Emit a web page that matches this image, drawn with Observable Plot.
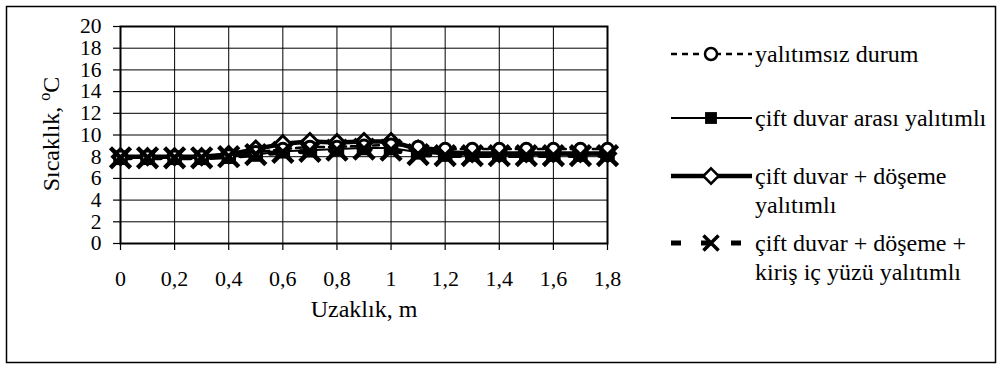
<!DOCTYPE html>
<html>
<head>
<meta charset="utf-8">
<script src="https://cdn.jsdelivr.net/npm/d3@7"></script>
<script src="https://cdn.jsdelivr.net/npm/@observablehq/plot@0.6"></script>
<style>
  html, body { margin: 0; padding: 0; background: white; }
  svg, svg text, svg tspan { font-family: 'Liberation Serif', 'Times New Roman', serif !important; }
</style>
</head>
<body>
<div id="chart"></div>
<script>
// ---- data ----
const distance = [0, 0.1, 0.2, 0.3, 0.4, 0.5, 0.6, 0.7, 0.8, 0.9, 1.0, 1.1, 1.2, 1.3, 1.4, 1.5, 1.6, 1.7, 1.8];
const yalitimsiz = [8.0, 8.0, 8.0, 8.0, 8.1, 8.4, 8.7, 8.9, 8.9, 9.0, 9.1, 8.9, 8.7, 8.7, 8.7, 8.7, 8.7, 8.7, 8.7];
const ciftDuvarArasi = [7.9, 7.9, 7.9, 7.9, 8.0, 8.2, 8.5, 8.6, 8.7, 8.8, 8.8, 8.4, 8.2, 8.2, 8.2, 8.2, 8.2, 8.2, 8.2];
const ciftDuvarDoseme = [8.0, 8.0, 8.0, 8.0, 8.2, 8.7, 9.2, 9.4, 9.3, 9.4, 9.4, 8.7, 8.4, 8.3, 8.3, 8.3, 8.3, 8.3, 8.3];
const ciftDuvarDosemeKiris = [7.9, 7.9, 7.9, 7.9, 8.0, 8.2, 8.4, 8.5, 8.6, 8.7, 8.6, 8.2, 8.1, 8.1, 8.1, 8.1, 8.1, 8.1, 8.1];

const xTicks = [0, 0.2, 0.4, 0.6, 0.8, 1, 1.2, 1.4, 1.6, 1.8];
const xTickLabels = ["0", "0,2", "0,4", "0,6", "0,8", "1", "1,2", "1,4", "1,6", "1,8"];
const yTicks = [0, 2, 4, 6, 8, 10, 12, 14, 16, 18, 20];
const yTickLabels = ["0", "2", "4", "6", "8", "10", "12", "14", "16", "18", "20"];

const xTitle = "Uzaklık, m";
const yTitleParts = ["Sıcaklık, ", "o", "C"];

const legendLabels = [
  ["yalıtımsız durum"],
  ["çift duvar arası yalıtımlı"],
  ["çift duvar + döşeme", "yalıtımlı"],
  ["çift duvar + döşeme +", "kiriş iç yüzü yalıtımlı"]
];

// ---- styles ----
const styles = [
  {symbol: "circle",   r: 5.8, fill: "white", stroke: "black", sw: 3,   line: 2.5, dash: "6,5"},
  {symbol: "square",   r: 8.2, fill: "black", stroke: "none",  sw: 0,   line: 2,   dash: null},
  {symbol: "diamond2", r: 7.2, fill: "white", stroke: "black", sw: 3,   line: 4.5, dash: null},
  {symbol: "times",    r: 9.2, fill: "none",  stroke: "black", sw: 4.5, line: 5,   dash: "10,20"}
];
const seriesValues = [yalitimsiz, ciftDuvarArasi, ciftDuvarDoseme, ciftDuvarDosemeKiris];
const drawOrder = [2, 1, 0, 3];

const xFmt = new Map(xTicks.map((t, i) => [t, xTickLabels[i]]));
const yFmt = new Map(yTicks.map((t, i) => [t, yTickLabels[i]]));

const lineMarks = seriesValues.map((vals, k) => Plot.line(vals, {
  x: (d, i) => distance[i], y: d => d,
  stroke: "black", strokeWidth: styles[k].line,
  strokeDasharray: styles[k].dash || undefined
}));
const dotMarks = drawOrder.map(k => Plot.dot(seriesValues[k], {
  x: (d, i) => distance[i], y: d => d,
  symbol: styles[k].symbol, r: styles[k].r,
  fill: styles[k].fill, stroke: styles[k].stroke, strokeWidth: styles[k].sw
}));

const svg = Plot.plot({
  width: 1002, height: 370,
  marginLeft: 120, marginRight: 395, marginTop: 26, marginBottom: 127,
  style: {fontSize: "22px", background: "white", color: "black"},
  x: {domain: [0, 1.8]},
  y: {domain: [0, 20]},
  marks: [
    Plot.gridX(xTicks.slice(1, -1), {stroke: "black", strokeOpacity: 1, strokeWidth: 1}),
    Plot.gridY(yTicks.slice(1), {stroke: "black", strokeOpacity: 1, strokeWidth: 1}),
    Plot.frame({stroke: "black", strokeWidth: 2}),
    Plot.axisX(xTicks, {tickSize: 7, tickPadding: 20, tickFormat: d => xFmt.get(d), label: null, fontSize: 22, strokeWidth: 1.2}),
    Plot.axisY(yTicks, {tickSize: 7, tickPadding: 12, tickFormat: d => yFmt.get(d), label: null, fontSize: 21.5, strokeWidth: 1.2}),
    ...lineMarks,
    ...dotMarks
  ]
});

document.getElementById("chart").appendChild(svg);

// ---- decorations: outer frame, axis titles, legend ----
const s = d3.select(svg);
s.insert("rect", ":first-child")
  .attr("x", 6.5).attr("y", 6.5).attr("width", 989).attr("height", 356)
  .attr("fill", "white").attr("stroke", "black").attr("stroke-width", 1.5);

s.append("text")
  .attr("x", 364).attr("y", 309).attr("dy", "0.35em")
  .attr("text-anchor", "middle").attr("font-size", 24)
  .text(xTitle);

const yt = s.append("text")
  .attr("transform", "translate(51,134) rotate(-90)")
  .attr("dy", "0.35em")
  .attr("text-anchor", "middle").attr("font-size", 24);
yt.append("tspan").text(yTitleParts[0]);
yt.append("tspan").attr("font-size", 16).attr("dy", -9).text(yTitleParts[1]);
yt.append("tspan").attr("font-size", 24).attr("dy", 9).text(yTitleParts[2]);

const LEG = {x0: 671, x1: 752, xm: 711, xt: 755, rows: [54, 118, 176, 243], lh: 29};
const legendSymbolSize = [113, 140, 150, 150];
const legendSymbolStroke = [2.5, 0, 2.5, 3.5];
const symMap = {circle: d3.symbolCircle, square: d3.symbolSquare, diamond2: d3.symbolDiamond2, times: d3.symbolTimes};
const lg = s.append("g").attr("text-anchor", "start");
legendLabels.forEach((lines, k) => {
  const st = styles[k];
  const y = LEG.rows[k];
  lg.append("line")
    .attr("x1", LEG.x0).attr("x2", LEG.x1).attr("y1", y).attr("y2", y)
    .attr("stroke", "black").attr("stroke-width", st.line)
    .attr("stroke-dasharray", st.dash);
  lg.append("path")
    .attr("transform", `translate(${LEG.xm},${y})`)
    .attr("d", d3.symbol(symMap[st.symbol], legendSymbolSize[k])())
    .attr("fill", st.fill).attr("stroke", st.stroke).attr("stroke-width", legendSymbolStroke[k]);
  lines.forEach((t, j) => {
    lg.append("text")
      .attr("x", LEG.xt).attr("y", y + j * LEG.lh).attr("dy", "0.32em")
      .attr("text-anchor", "start")
      .attr("font-size", 24)
      .text(t);
  });
});
</script>
</body>
</html>
